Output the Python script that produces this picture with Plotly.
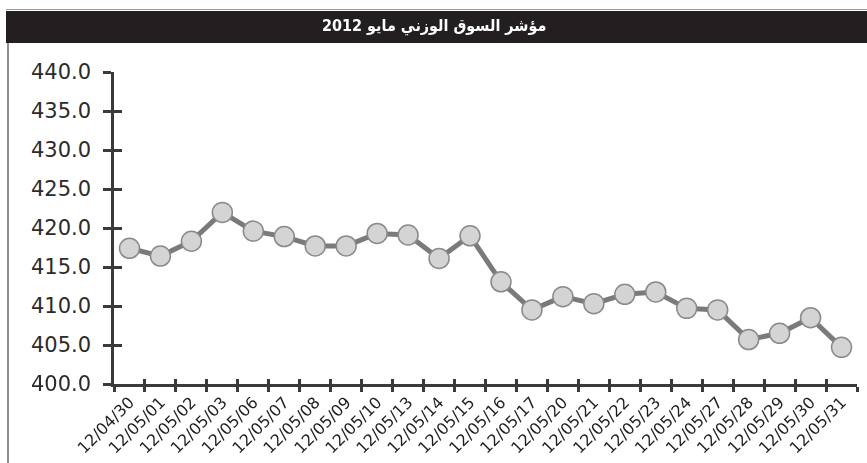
import plotly.graph_objects as go

dates = ["12/04/30", "12/05/01", "12/05/02", "12/05/03", "12/05/06", "12/05/07",
         "12/05/08", "12/05/09", "12/05/10", "12/05/13", "12/05/14", "12/05/15",
         "12/05/16", "12/05/17", "12/05/20", "12/05/21", "12/05/22", "12/05/23",
         "12/05/24", "12/05/27", "12/05/28", "12/05/29", "12/05/30", "12/05/31"]
index_values = [417.4, 416.4, 418.3, 422.0, 419.6, 418.9, 417.7, 417.7, 419.3, 419.1,
                416.1, 419.0, 413.1, 409.5, 411.2, 410.3, 411.5, 411.8, 409.7, 409.5,
                405.7, 406.5, 408.5, 404.7]
y_ticks = [400, 405, 410, 415, 420, 425, 430, 435, 440]
title_text = "مؤشر السوق الوزني مايو 2012"

W, H = 867, 463
px_left, px_right, px_top, px_bottom = 114, 857, 72, 384

fig = go.Figure()
fig.add_trace(go.Scatter(
    x=dates, y=index_values, mode="lines+markers",
    line=dict(color="#7a7a7a", width=5),
    marker=dict(size=20, color="#d4d4d4", line=dict(color="#8a8a8a", width=1.5)),
    showlegend=False, hoverinfo="skip", xaxis="x", yaxis="y"))
# invisible copy for the inner tick axes
fig.add_trace(go.Scatter(
    x=dates, y=index_values, mode="markers", opacity=0,
    showlegend=False, hoverinfo="skip", xaxis="x2", yaxis="y2"))

xdom = [px_left / W, px_right / W]
ydom = [(H - px_bottom) / H, (H - px_top) / H]

tickfont_y = dict(family="DejaVu Sans", size=21, color="#2b2b2b")
tickfont_x = dict(family="DejaVu Sans", size=16, color="#1e1e1e")

fig.update_layout(
    width=W, height=H, margin=dict(l=0, r=0, t=0, b=0),
    paper_bgcolor="white", plot_bgcolor="white",
    xaxis=dict(domain=xdom, type="category", range=[-0.5, len(dates) - 0.5],
               showgrid=False, zeroline=False, showline=True, linecolor="#3a3a3a",
               linewidth=2.5, ticks="outside", ticklen=5, tickwidth=2.5,
               tickcolor="#3a3a3a", tickson="boundaries", tickangle=-45,
               tickfont=tickfont_x, anchor="y", automargin=False),
    yaxis=dict(domain=ydom, range=[400, 440], tickvals=y_ticks,
               ticktext=[f"{v:.1f}" for v in y_ticks],
               showgrid=False, zeroline=False, showline=True, linecolor="#3a3a3a",
               linewidth=2.5, ticks="outside", ticklen=8, tickwidth=2.5,
               tickcolor="#3a3a3a", tickfont=tickfont_y, ticklabelstandoff=8,
               anchor="x", automargin=False),
    xaxis2=dict(domain=xdom, type="category", range=[-0.5, len(dates) - 0.5],
                overlaying="x", anchor="y2", side="bottom", showgrid=False,
                zeroline=False, showline=False, ticks="inside", ticklen=5,
                tickwidth=2.5, tickcolor="#3a3a3a", tickson="boundaries",
                showticklabels=False),
    yaxis2=dict(domain=ydom, range=[400, 440], tickvals=y_ticks, overlaying="y",
                anchor="x2", side="left", showgrid=False, zeroline=False,
                showline=False, ticks="inside", ticklen=8, tickwidth=2.5,
                tickcolor="#3a3a3a", showticklabels=False),
    shapes=[
        dict(type="rect", xref="paper", yref="paper", x0=6 / W, x1=1.0,
             y0=(H - 43) / H, y1=(H - 11) / H, fillcolor="#231f20", line=dict(width=0),
             layer="below"),
        dict(type="line", xref="paper", yref="paper", x0=6 / W, x1=1.0,
             y0=(H - 9.5) / H, y1=(H - 9.5) / H, line=dict(color="#9a9a9a", width=1)),
        dict(type="line", xref="paper", yref="paper", x0=8 / W, x1=8 / W,
             y0=0, y1=(H - 43) / H, line=dict(color="#6a6a6a", width=1.5)),
    ],
    annotations=[
        dict(text=f"<b>{title_text}</b>", xref="paper", yref="paper", x=0.5,
             y=(H - 26.5) / H, showarrow=False, xanchor="center", yanchor="middle",
             font=dict(family="DejaVu Sans Condensed", size=16, color="white"))
    ],
)

fig.write_html("out.html", config={"displayModeBar": False},
               post_script="document.body.style.margin='0';document.body.style.overflow='hidden';")
